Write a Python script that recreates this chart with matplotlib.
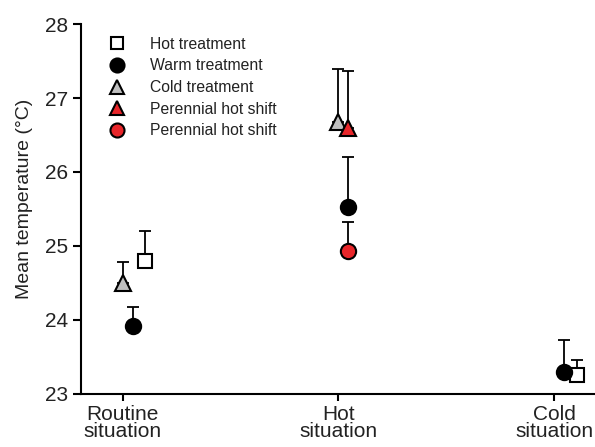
import numpy as np
import matplotlib
matplotlib.use("Agg")
import matplotlib.pyplot as plt

plt.rcParams['font.family'] = ['Liberation Sans', 'DejaVu Sans']

# categories on the x axis
situations = ["Routine\nsituation", "Hot\nsituation", "Cold\nsituation"]

# mean values (NaN = not measured) and upper error
hot_treat_mean = [24.80, np.nan, 23.26]
hot_treat_err = [0.40, np.nan, 0.20]
warm_treat_mean = [23.92, 25.53, 23.30]
warm_treat_err = [0.25, 0.67, 0.43]
cold_treat_mean = [24.50, 26.68, np.nan]
cold_treat_err = [0.28, 0.71, np.nan]
shift_tri_mean = [np.nan, 26.60, np.nan]
shift_tri_err = [np.nan, 0.76, np.nan]
shift_circ_mean = [np.nan, 24.93, np.nan]
shift_circ_err = [np.nan, 0.39, np.nan]

series = [
    ("Hot treatment", hot_treat_mean, hot_treat_err, dict(marker="s", mfc="white", ms=10), 0.105),
    ("Warm treatment", warm_treat_mean, warm_treat_err, dict(marker="o", mfc="black", ms=11), 0.046),
    ("Cold treatment", cold_treat_mean, cold_treat_err, dict(marker="^", mfc="#bfbfbf", ms=11), 0.0),
    ("Perennial hot shift", shift_tri_mean, shift_tri_err, dict(marker="^", mfc="#e8262a", ms=11), 0.046),
    ("Perennial hot shift", shift_circ_mean, shift_circ_err, dict(marker="o", mfc="#e8262a", ms=11), 0.046),
]

fig = plt.figure(figsize=(5.95, 4.47), dpi=100)
ax = fig.add_axes([0.136, 0.1186, 0.864, 0.8277])

x = np.arange(len(situations))
for label, mean, err, style, off in series:
    mean = np.array(mean)
    err = np.array(err)
    lower = np.zeros_like(err)
    ax.errorbar(x + off, mean, yerr=[lower, err], fmt="none", ecolor="black",
                elinewidth=1.3, capsize=4, capthick=1.3, zorder=2)
    ax.plot(x + off, mean, linestyle="none", mec="black", mew=1.5,
            label=label, zorder=3, **style)

ax.set_xlim(-0.194, 2.19)
ax.set_ylim(23, 28)
ax.set_yticks([23, 24, 25, 26, 27, 28])
ax.set_xticks(x)
ax.set_xticklabels(situations, fontsize=15, linespacing=0.88, color="#222222")
ax.tick_params(axis="y", labelsize=15, length=6, width=1.5, direction="out",
               labelcolor="#222222", pad=3)
ax.tick_params(axis="x", length=5, width=1.5, direction="out", pad=3)
ax.set_ylabel("Mean temperature (°C)", fontsize=14, labelpad=9, color="#222222")
ax.yaxis.label.set_y(0.527)
ax.spines["top"].set_visible(False)
ax.spines["right"].set_visible(False)
ax.spines["left"].set_linewidth(1.5)
ax.spines["bottom"].set_linewidth(1.5)

leg = ax.legend(loc="upper left", bbox_to_anchor=(0.03, 0.995), frameon=False,
                fontsize=11.3, handletextpad=1.5, labelspacing=0.42,
                markerscale=0.92, handlelength=1.2, borderaxespad=0.3)
for t in leg.get_texts():
    t.set_color("#222222")

fig.savefig("out.png", dpi=100)
